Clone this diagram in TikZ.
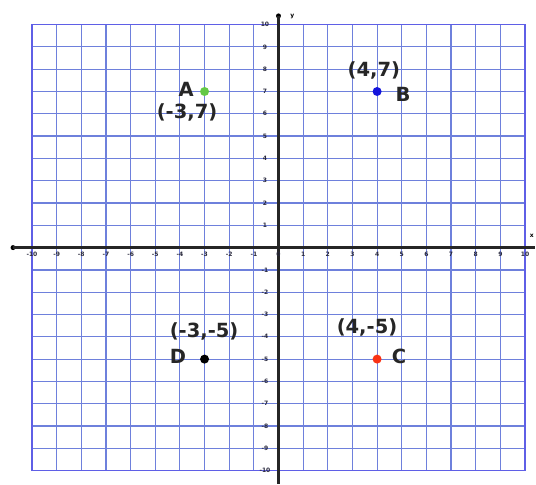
\documentclass[tikz,border=0pt]{standalone}
\usepackage{fontspec}
\setmainfont{DejaVu Sans}
\definecolor{gridblue}{RGB}{110,128,220}
\definecolor{borderblue}{RGB}{95,95,230}
\definecolor{ptgreen}{RGB}{100,200,70}
\definecolor{ptblue}{RGB}{20,20,220}
\definecolor{ptred}{RGB}{250,50,20}
\definecolor{ticktext}{RGB}{40,40,60}
\begin{document}
\begin{tikzpicture}[x=24.65pt,y=22.3pt,
  gridline/.style={draw=gridblue,line width=1.2pt},
  frame/.style={draw=borderblue,line width=1.6pt},
  axisline/.style={draw=black!85,line width=2.4pt},
  axisend/.style={circle,fill=black,inner sep=0pt,minimum size=5pt},
  ticklab/.style={font=\fontsize{6}{6}\selectfont\bfseries,text=ticktext,inner sep=0pt},
  ptdot/.style={circle,inner sep=0pt,minimum size=9pt},
  ptlab/.style={font=\fontsize{19.5}{19.5}\selectfont\bfseries,text=black!85,inner sep=0pt}]
\useasboundingbox (-11.298,-10.601) rectangle (10.446,11.103);
\fill[white] (-11.298,-10.601) rectangle (10.446,11.103);
\foreach \i in {-9,...,9}{
  \draw[gridline] (\i,-10) -- (\i,10);
  \draw[gridline] (-10,\i) -- (10,\i);
}
\draw[frame] (-10,-10) rectangle (10,10);
% axes
\node[axisend] (xl) at (-10.77,0) {};
\coordinate (xr) at (10.42,0);
\node[axisend] (yt) at (0,10.39) {};
\coordinate (yb) at (0,-10.6);
\draw[axisline] (xl.center) -- (xr);
\draw[axisline] (yt.center) -- (yb);
\node[font=\fontsize{6}{6}\selectfont\bfseries,inner sep=0pt] (xlab) at (10.28,0.52) {x};
\node[font=\fontsize{6}{6}\selectfont\bfseries,inner sep=0pt] (ylab) at (0.56,10.35) {y};
% tick labels
\foreach \i in {-10,...,10}{
  \node[ticklab] (xt\i) at (\i,-0.3) {\i};
}
\foreach \i in {-10,...,-1,1,2,...,10}{
  \node[ticklab] (yt\i) at (-0.55,\i) {\i};
}
% points
\node[ptdot,fill=ptgreen] (A) at (-3,7) {};
\node[ptdot,fill=ptblue] (B) at (4,7) {};
\node[ptdot,fill=ptred] (C) at (4,-5) {};
\node[ptdot,fill=black] (D) at (-3,-5) {};
\node[ptlab] (Al) at (-3.75,7.11) {A};
\node[ptlab] (Ac) at (-3.71,6.08) {(-3,7)};
\node[ptlab] (Bl) at (5.05,6.88) {B};
\node[ptlab] (Bc) at (3.87,7.96) {(4,7)};
\node[ptlab] (Cl) at (4.89,-4.9) {C};
\node[ptlab] (Cc) at (3.59,-3.6) {(4,-5)};
\node[ptlab] (Dl) at (-4.08,-4.9) {D};
\node[ptlab] (Dc) at (-3.02,-3.74) {(-3,-5)};
\end{tikzpicture}
\end{document}
